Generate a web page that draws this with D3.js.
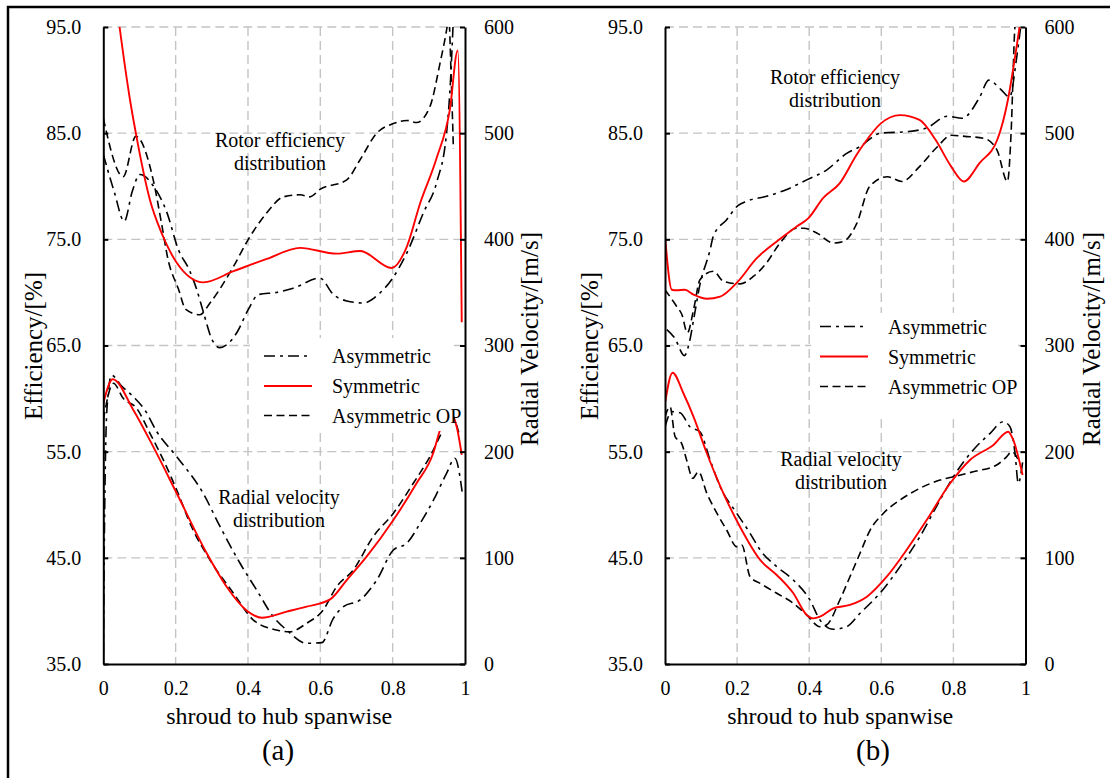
<!DOCTYPE html>
<html>
<head>
<meta charset="utf-8">
<script src="https://cdn.jsdelivr.net/npm/d3@7"></script>
<style>
body { margin: 0; background: #fff; }
svg { display: block; }
text { font-family: "Liberation Serif", "Times New Roman", serif; fill: #000; }
</style>
</head>
<body>
<svg id="chart" width="1110" height="778"></svg>
<script>
// spanwise position (0 = shroud, 1 = hub)
var spanTicks = [0, 0.2, 0.4, 0.6, 0.8, 1];
var effTicks = [35, 45, 55, 65, 75, 85, 95];      // efficiency, %
var velTicks = [0, 100, 200, 300, 400, 500, 600]; // radial velocity, m/s
var seriesNames = ['Asymmetric', 'Symmetric', 'Asymmetric OP'];

// ---- (a) rotor efficiency [span, %]
var aEffAsym = [[0, 83], [0.03, 79.5], [0.058, 76.7], [0.08, 79.5], [0.101, 81.1], [0.143, 79.8], [0.175, 77.6],
	[0.208, 74.0], [0.238, 72.1], [0.258, 70.3], [0.277, 68.1], [0.3, 65.6], [0.322, 64.8], [0.369, 66.2],
	[0.401, 68.4], [0.429, 69.8], [0.479, 70.0], [0.525, 70.4], [0.599, 71.35], [0.636, 69.8], [0.673, 69.2],
	[0.719, 69.0], [0.765, 69.95], [0.797, 71.2], [0.839, 73.7], [0.885, 77.5], [0.922, 80.4], [0.949, 85],
	[0.96, 90], [0.968, 96]];
var aEffSym = [[0.03, 99], [0.045, 95], [0.074, 88.1], [0.09, 85], [0.129, 78.7], [0.161, 75.6], [0.203, 72.8],
	[0.277, 70.95], [0.36, 72.0], [0.452, 73.15], [0.544, 74.2], [0.645, 73.65], [0.71, 73.9], [0.797, 72.3],
	[0.839, 74.3], [0.876, 78.4], [0.92, 82.5], [0.958, 87.2], [0.98, 92.8], [0.991, 67.2]];
var aEffOP = [[0, 86.4], [0.055, 80.9], [0.09, 84.7], [0.138, 80.6], [0.161, 76.5], [0.179, 73.1], [0.208, 70.3],
	[0.228, 68.4], [0.267, 67.9], [0.295, 69.0], [0.36, 72.45], [0.401, 75.0], [0.452, 77.5], [0.498, 79.0],
	[0.544, 79.2], [0.571, 79.0], [0.599, 79.7], [0.673, 80.6], [0.71, 82.5], [0.756, 85.0], [0.802, 85.9],
	[0.839, 86.2], [0.866, 86.0], [0.903, 87.5], [0.931, 91.6], [0.949, 94.7], [0.955, 96], [0.962, 90], [0.968, 83.5]];

// ---- (a) radial velocity [span, m/s]
var aVelAsym = [[0, 10], [0.004, 150], [0.01, 240], [0.023, 272], [0.05, 262], [0.083, 251.8], [0.115, 239.3],
	[0.148, 218.8], [0.203, 195.3], [0.276, 160.8], [0.323, 129.3], [0.378, 94.9], [0.424, 69.7], [0.47, 44.6],
	[0.507, 32.0], [0.562, 19.5], [0.604, 20.1], [0.636, 43], [0.664, 54], [0.71, 60.3], [0.756, 79.1],
	[0.802, 107.4], [0.839, 113.7], [0.876, 132.5], [0.913, 154.5], [0.949, 179.6], [0.972, 193.8], [0.994, 157.6]];
var aVelSym = [[0, 245.6], [0.026, 268.2], [0.083, 239.3], [0.138, 204.7], [0.203, 160.8], [0.286, 104.3],
	[0.341, 72.8], [0.397, 50.2], [0.438, 43.6], [0.507, 49.3], [0.562, 54], [0.627, 60.9], [0.673, 79.1],
	[0.728, 101.1], [0.802, 135.6], [0.866, 170.2], [0.912, 198.5], [0.931, 220.4], [0.955, 238],
	[0.977, 223.5], [0.991, 196.9]];
var aVelOP = [[0, 230], [0.028, 264.4], [0.055, 250.3], [0.092, 240.9], [0.129, 217.3], [0.166, 192.2],
	[0.203, 163.9], [0.244, 129.3], [0.295, 98], [0.36, 66.6], [0.415, 41.4], [0.479, 32.0], [0.516, 30.4],
	[0.562, 38.3], [0.608, 50.9], [0.645, 72.8], [0.691, 88.5], [0.746, 119.9], [0.802, 142], [0.857, 170.2],
	[0.903, 195.3], [0.94, 220.4], [0.965, 232], [0.985, 215]];

// ---- (b) rotor efficiency [span, %]
var bEffAsym = [[0.005, 66.5], [0.027, 65.7], [0.054, 64.05], [0.067, 65.2], [0.081, 67.75], [0.096, 70.6],
	[0.125, 74.0], [0.134, 75.3], [0.171, 76.85], [0.203, 78.2], [0.227, 78.6], [0.282, 79.05], [0.338, 79.7],
	[0.393, 80.6], [0.449, 81.55], [0.504, 83.1], [0.539, 83.7], [0.598, 85.0], [0.676, 85.15], [0.726, 85.5],
	[0.784, 86.6], [0.824, 86.4], [0.873, 88.4], [0.898, 90.0], [0.932, 89.1], [0.956, 88.4], [0.975, 92], [0.99, 96]];
var bEffSym = [[0, 75.3], [0.019, 70.25], [0.032, 70.2], [0.055, 70.25], [0.079, 69.8], [0.116, 69.4],
	[0.153, 69.6], [0.199, 70.9], [0.254, 73.2], [0.31, 74.8], [0.365, 76.2], [0.398, 77.0], [0.439, 78.9],
	[0.485, 80.3], [0.532, 83.0], [0.552, 84.0], [0.598, 85.9], [0.652, 86.7], [0.706, 86.25], [0.75, 84.4],
	[0.794, 81.85], [0.829, 80.45], [0.873, 82.2], [0.922, 84.4], [0.951, 88.1], [0.971, 92.2], [0.983, 94.9], [0.995, 98]];
var bEffOP = [[0, 70.25], [0.032, 68.7], [0.047, 67.9], [0.062, 66.2], [0.08, 68.5], [0.097, 71.2], [0.134, 72.0],
	[0.162, 71.05], [0.208, 70.8], [0.245, 71.5], [0.282, 72.8], [0.319, 74.65], [0.365, 76.05], [0.384, 76.05],
	[0.421, 75.6], [0.467, 74.65], [0.495, 74.8], [0.532, 76.5], [0.568, 80.0], [0.617, 80.9], [0.657, 80.45],
	[0.706, 81.85], [0.755, 83.7], [0.794, 84.8], [0.832, 84.7], [0.886, 84.5], [0.921, 83.4], [0.95, 80.45],
	[0.96, 85], [0.97, 94.7], [0.975, 97]];

// ---- (b) radial velocity [span, m/s]
var bVelAsym = [[0, 223.5], [0.019, 237.7], [0.042, 236.7], [0.069, 223.5], [0.097, 218.8], [0.125, 192.2],
	[0.153, 167], [0.199, 142], [0.236, 123.1], [0.264, 107.4], [0.31, 91.7], [0.356, 79.1], [0.402, 60.3],
	[0.43, 41.4], [0.467, 32.7], [0.504, 35.1], [0.541, 47.8], [0.596, 66.6], [0.652, 91.7], [0.707, 119.9],
	[0.763, 154.5], [0.8, 176.4], [0.855, 201.6], [0.902, 217.3], [0.938, 228.2], [0.957, 223.5], [0.971, 198.5],
	[0.98, 170.2], [0.992, 190]];
var bVelSym = [[0, 245.6], [0.021, 274.4], [0.051, 255], [0.079, 233], [0.116, 198.5], [0.162, 160.8],
	[0.208, 129.3], [0.264, 98], [0.31, 83.8], [0.356, 66.6], [0.393, 46.2], [0.411, 43.0], [0.43, 44.6],
	[0.467, 52.5], [0.513, 55.6], [0.56, 63.4], [0.615, 82.2], [0.67, 107.4], [0.726, 135.6], [0.791, 170.2],
	[0.846, 192.2], [0.911, 206.3], [0.952, 218.8], [0.966, 211], [0.992, 178]];
var bVelOP = [[0, 233], [0.014, 242.4], [0.028, 214.1], [0.046, 207.9], [0.06, 192.2], [0.077, 174.9],
	[0.093, 181.1], [0.116, 160.8], [0.139, 145.1], [0.171, 126.2], [0.199, 110.5], [0.213, 112.1], [0.236, 82.2],
	[0.264, 76], [0.31, 66.6], [0.356, 57.2], [0.393, 46.2], [0.43, 35.1], [0.448, 36.7], [0.485, 60.3],
	[0.513, 82.2], [0.541, 104.3], [0.569, 126.2], [0.606, 142], [0.652, 154.5], [0.707, 165.5], [0.763, 173.3],
	[0.8, 176.4], [0.855, 181.1], [0.92, 187.5], [0.948, 195.3], [0.962, 200], [0.98, 192.2]];

var TOP = 27, BOTTOM = 664;
var styles = {
	'Asymmetric': {color: '#000', dash: '11,5,3,5', width: 1.6},
	'Symmetric': {color: '#ff0000', dash: null, width: 1.9},
	'Asymmetric OP': {color: '#000', dash: '8,4.5', width: 1.6}
};

var svg = d3.select('#chart');
svg.append('rect').attr('width', 1110).attr('height', 778).attr('fill', '#fff');
svg.append('rect')
	.attr('x', 8).attr('y', 7).attr('width', 1200).attr('height', 800)
	.attr('fill', 'none').attr('stroke', '#000').attr('stroke-width', 2.5);

var panels = [
	{id: 'a', x0: 103.3, x1: 465, tag: '(a)', tagX: 278,
		box: [250, 338, 454, 431], legX: 264, legTextX: 332, legY: [356, 386, 415.5],
		rotor: [280, 140], radial: [279, 497],
		leftLab: 41.5, rightLab: 538,
		eff: {'Asymmetric': aEffAsym, 'Symmetric': aEffSym, 'Asymmetric OP': aEffOP},
		vel: {'Asymmetric': aVelAsym, 'Symmetric': aVelSym, 'Asymmetric OP': aVelOP}},
	{id: 'b', x0: 665, x1: 1025.5, tag: '(b)', tagX: 873,
		box: [811, 313, 1018, 419], legX: 820, legTextX: 888, legY: [326.5, 356.5, 386.5],
		rotor: [835, 77], radial: [841, 459],
		leftLab: 598, rightLab: 1099.5,
		eff: {'Asymmetric': bEffAsym, 'Symmetric': bEffSym, 'Asymmetric OP': bEffOP},
		vel: {'Asymmetric': bVelAsym, 'Symmetric': bVelSym, 'Asymmetric OP': bVelOP}}
];

panels.forEach(drawPanel);

function drawPanel(p) {
	var g = svg.append('g');
	var x = d3.scaleLinear().domain([0, 1]).range([p.x0, p.x1]);
	var yEff = d3.scaleLinear().domain([35, 95]).range([BOTTOM, TOP]);
	var yVel = d3.scaleLinear().domain([0, 600]).range([BOTTOM, TOP]);

	// dashed grid
	g.append('g').selectAll('line').data(effTicks.slice(1)).join('line')
		.attr('x1', p.x0).attr('x2', p.x1)
		.attr('y1', d => yEff(d)).attr('y2', d => yEff(d))
		.attr('stroke', '#c4c4c4').attr('stroke-width', 1.4).attr('stroke-dasharray', '9,5');
	g.append('g').selectAll('line').data(spanTicks.slice(1, -1)).join('line')
		.attr('x1', d => x(d)).attr('x2', d => x(d))
		.attr('y1', TOP).attr('y2', BOTTOM)
		.attr('stroke', '#c4c4c4').attr('stroke-width', 1.4).attr('stroke-dasharray', '9,5');

	svg.append('clipPath').attr('id', 'clip-' + p.id)
		.append('rect').attr('x', p.x0).attr('y', TOP)
		.attr('width', p.x1 - p.x0).attr('height', BOTTOM - TOP);
	var lines = g.append('g').attr('clip-path', 'url(#clip-' + p.id + ')');

	var order = ['Asymmetric', 'Asymmetric OP', 'Symmetric'];
	[[p.eff, yEff], [p.vel, yVel]].forEach(function (pair) {
		order.forEach(function (name) {
			var st = styles[name];
			var line = d3.line().x(d => x(d[0])).y(d => pair[1](d[1])).curve(d3.curveMonotoneX);
			lines.append('path').datum(pair[0][name])
				.attr('d', line)
				.attr('fill', 'none')
				.attr('stroke', st.color)
				.attr('stroke-width', st.width)
				.attr('stroke-dasharray', st.dash);
		});
	});

	// legend with white background
	g.append('rect').attr('x', p.box[0]).attr('y', p.box[1])
		.attr('width', p.box[2] - p.box[0]).attr('height', p.box[3] - p.box[1])
		.attr('fill', '#fff');
	seriesNames.forEach(function (name, i) {
		var st = styles[name];
		g.append('line')
			.attr('x1', p.legX).attr('x2', p.legX + 48)
			.attr('y1', p.legY[i]).attr('y2', p.legY[i])
			.attr('stroke', st.color).attr('stroke-width', st.width)
			.attr('stroke-dasharray', st.dash);
		g.append('text').attr('x', p.legTextX).attr('y', p.legY[i] + 7)
			.attr('font-size', 20).text(name);
	});

	// notes
	[[p.rotor, 'Rotor efficiency'], [p.radial, 'Radial velocity']].forEach(function (n) {
		g.append('text').attr('x', n[0][0]).attr('y', n[0][1] + 7)
			.attr('text-anchor', 'middle').attr('font-size', 20).text(n[1]);
		g.append('text').attr('x', n[0][0]).attr('y', n[0][1] + 30)
			.attr('text-anchor', 'middle').attr('font-size', 20).text('distribution');
	});

	// axes
	var xAxis = d3.axisBottom(x).tickValues(spanTicks).tickSize(0).tickPadding(17)
		.tickFormat(d => (d === 0 || d === 1) ? d : d.toFixed(1));
	var leftAxis = d3.axisLeft(yEff).tickValues(effTicks).tickSizeInner(-5).tickSizeOuter(0)
		.tickPadding(22).tickFormat(d3.format('.1f'));
	var rightAxis = d3.axisRight(yVel).tickValues(velTicks).tickSizeInner(-5).tickSizeOuter(0)
		.tickPadding(19);

	[
		g.append('g').attr('transform', 'translate(0,' + BOTTOM + ')').call(xAxis),
		g.append('g').attr('transform', 'translate(' + p.x0 + ',0)').call(leftAxis),
		g.append('g').attr('transform', 'translate(' + p.x1 + ',0)').call(rightAxis)
	].forEach(function (a) {
		a.attr('font-size', 20);
		a.select('.domain').attr('stroke', '#000').attr('stroke-width', 2);
		a.selectAll('.tick line').attr('stroke', '#000').attr('stroke-width', 2);
		a.selectAll('text').attr('fill', '#000');
	});

	// titles
	var mid = (p.x0 + p.x1) / 2;
	g.append('text').attr('x', mid - 5).attr('y', 724)
		.attr('text-anchor', 'middle').attr('font-size', 24).text('shroud to hub spanwise');
	g.append('text').attr('x', p.tagX).attr('y', 760)
		.attr('text-anchor', 'middle').attr('font-size', 29).text(p.tag);
	g.append('text').attr('transform', 'translate(' + p.leftLab + ',346) rotate(-90)')
		.attr('text-anchor', 'middle').attr('font-size', 25).text('Efficiency/[%]');
	g.append('text').attr('transform', 'translate(' + p.rightLab + ',339) rotate(-90)')
		.attr('text-anchor', 'middle').attr('font-size', 25).text('Radial Velocity/[m/s]');
}
</script>
</body>
</html>
